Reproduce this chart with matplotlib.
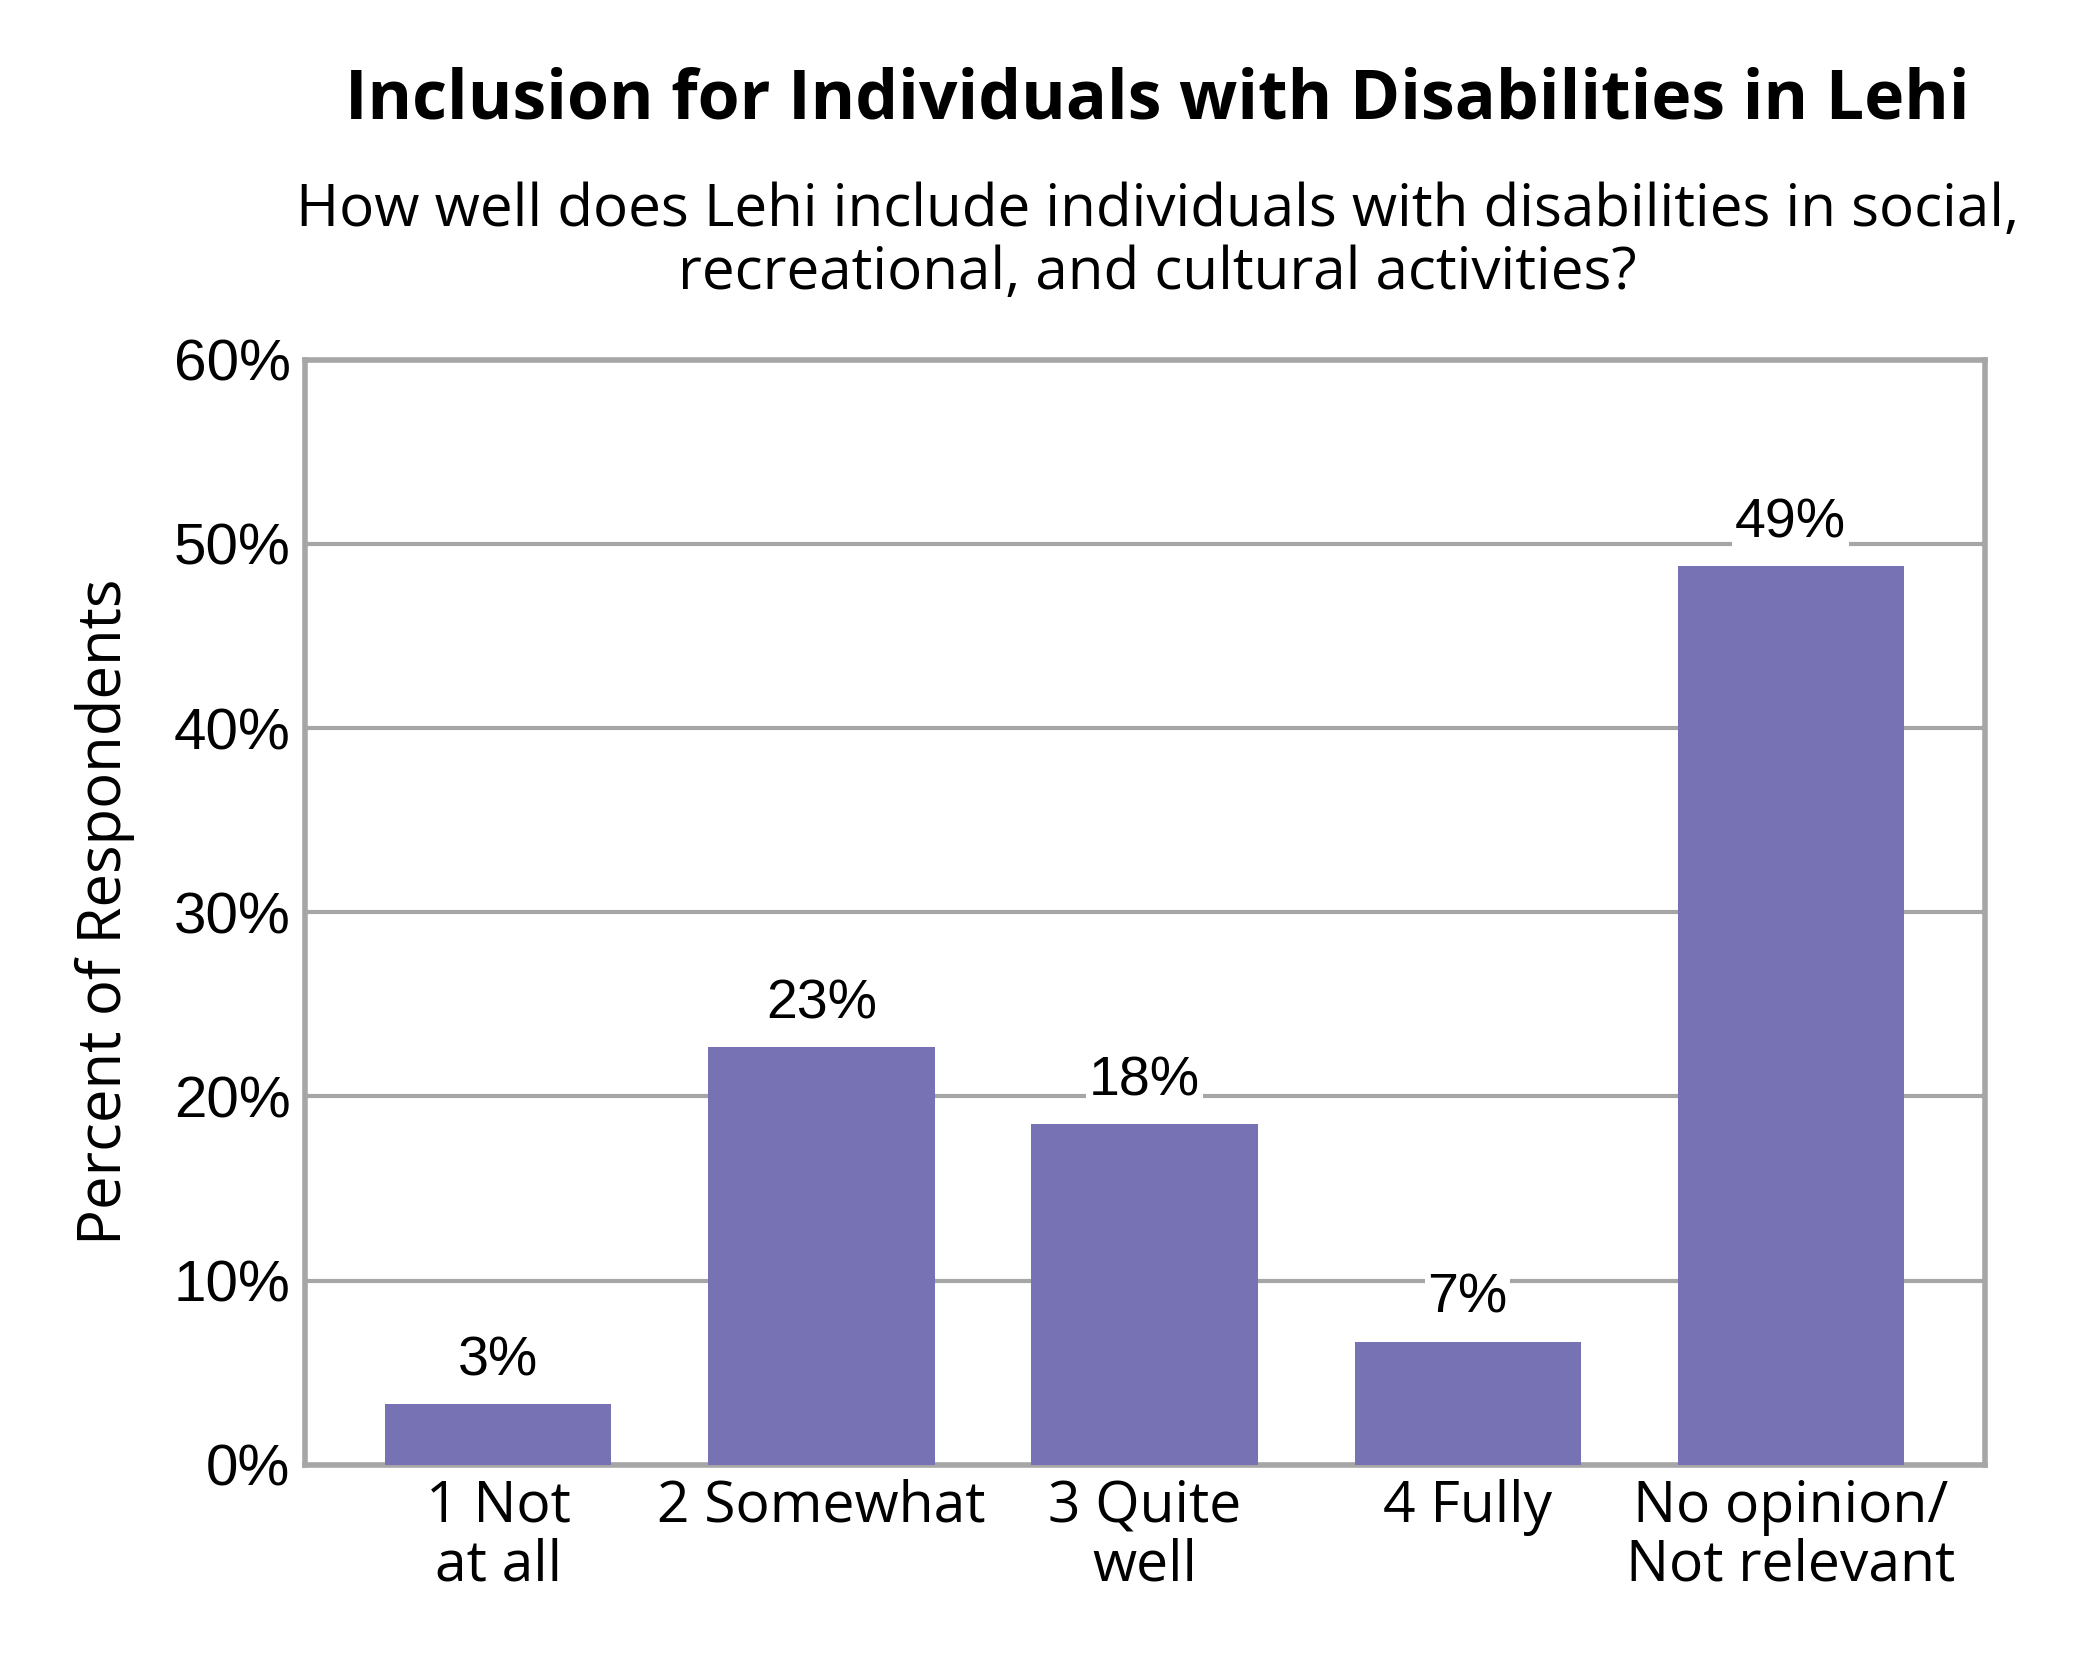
import matplotlib
matplotlib.use("Agg")
import matplotlib.pyplot as plt
from matplotlib.ticker import FuncFormatter

categories = ["1 Not\nat all", "2 Somewhat", "3 Quite\nwell", "4 Fully", "No opinion/\nNot relevant"]
values = [3.3, 22.7, 18.5, 6.7, 48.8]
labels = ["3%", "23%", "18%", "7%", "49%"]

fig = plt.figure(figsize=(21, 16.8), dpi=100)
ax = fig.add_axes([0.145, 0.128, 0.8, 0.658])
bar_color = "#7672B3"
grid_color = "#A6A6A6"
x = range(len(categories))
ax.bar(x, values, width=0.7, color=bar_color, zorder=3)
for xi, v, t in zip(x, values, labels):
    ax.text(xi, v + 0.9, t, ha="center", va="bottom", fontsize=40,
            family="Liberation Sans", zorder=4,
            bbox=dict(facecolor="white", edgecolor="none", pad=2))
ax.set_ylim(0, 60)
ax.set_xlim(-0.6, 4.6)
ax.set_yticks(range(0, 61, 10))
ax.yaxis.set_major_formatter(FuncFormatter(lambda v, p: f"{int(v)}%"))
ax.set_xticks(list(x))
ax.set_xticklabels(categories, family="Open Sans", fontsize=41, linespacing=1.05)
for lab in ax.get_yticklabels():
    lab.set_family("Liberation Sans"); lab.set_fontsize(42)
ax.tick_params(axis="both", length=0, pad=10)
ax.grid(axis="y", color=grid_color, linewidth=3, zorder=0)
for s in ax.spines.values():
    s.set_color(grid_color); s.set_linewidth(4)
ax.set_ylabel("Percent of Respondents", family="Open Sans", fontsize=43, labelpad=28)
fig.text(0.551, 0.94, "Inclusion for Individuals with Disabilities in Lehi",
         ha="center", va="center", fontsize=49, fontweight="bold", family="Open Sans")
fig.text(0.551, 0.856, "How well does Lehi include individuals with disabilities in social,\nrecreational, and cultural activities?",
         ha="center", va="center", fontsize=42, family="Open Sans", linespacing=1.1)
fig.savefig("out.png", dpi=100)
